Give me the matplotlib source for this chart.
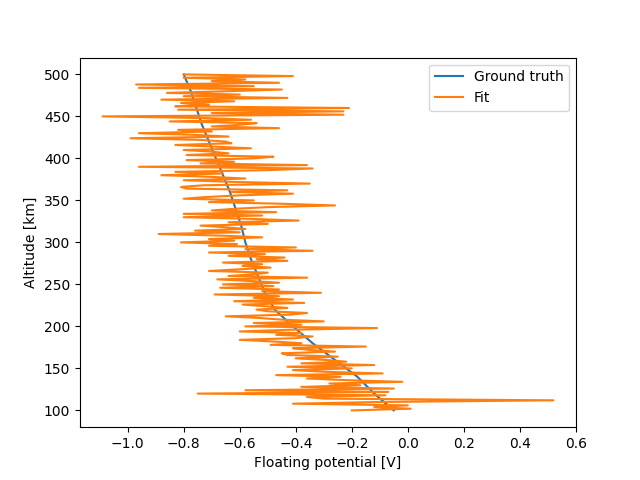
import numpy as np
import matplotlib
matplotlib.use("Agg")
import matplotlib.pyplot as plt

# Ground truth profile (altitude km -> potential V)
truth_alt = [100, 120, 140, 160, 180, 200, 220, 240, 260, 280, 300,
             320, 340, 360, 380, 400, 420, 440, 460, 480, 500]
truth_pot = [-0.05, -0.12, -0.18, -0.26, -0.34, -0.41, -0.475, -0.51, -0.535, -0.56, -0.58,
             -0.595, -0.615, -0.635, -0.66, -0.685, -0.71, -0.735, -0.755, -0.775, -0.80]

# Fit altitudes: 100..500 km every 2 km
fit_alt = np.arange(100, 501, 2)
fit_pot = [
    -0.20, 0.01, -0.12, 0.00, -0.41, -0.10, 0.52, -0.30, -0.36, -0.08,
    -0.75, -0.07, -0.58, -0.05, -0.38, -0.17, -0.28, -0.02, -0.22, -0.36,
    -0.24, -0.47, -0.09, -0.30, -0.41, -0.20, -0.43, -0.12, -0.38, -0.22,
    -0.29, -0.40, -0.25, -0.43, -0.45, -0.26, -0.35, -0.41, -0.15, -0.49,
    -0.38, -0.48, -0.60, -0.40, -0.34, -0.47, -0.38, -0.60, -0.42, -0.11,
    -0.58, -0.38, -0.55, -0.30, -0.45, -0.53, -0.65, -0.42, -0.36, -0.50,
    -0.54, -0.43, -0.51, -0.59, -0.37, -0.62, -0.41, -0.55, -0.46, -0.69,
    -0.31, -0.52, -0.46, -0.67, -0.48, -0.66, -0.46, -0.56, -0.68, -0.36,
    -0.64, -0.55, -0.50, -0.71, -0.60, -0.49, -0.59, -0.52, -0.66, -0.43,
    -0.54, -0.44, -0.64, -0.51, -0.71, -0.34, -0.58, -0.40, -0.71, -0.61,
    -0.81, -0.62, -0.71, -0.52, -0.66, -0.89, -0.60, -0.76, -0.58, -0.65,
    -0.74, -0.50, -0.64, -0.39, -0.56, -0.80, -0.52, -0.80, -0.47, -0.70,
    -0.62, -0.50, -0.26, -0.45, -0.71, -0.55, -0.80, -0.72, -0.60, -0.41,
    -0.63, -0.43, -0.79, -0.81, -0.73, -0.35, -0.62, -0.80, -0.58, -0.70,
    -0.88, -0.66, -0.83, -0.50, -0.34, -0.96, -0.36, -0.74, -0.62, -0.79,
    -0.55, -0.48, -0.79, -0.64, -0.70, -0.80, -0.56, -0.69, -0.83, -0.63,
    -0.65, -0.74, -0.99, -0.64, -0.76, -0.96, -0.70, -0.82, -0.46, -0.70,
    -0.60, -0.54, -0.85, -0.56, -0.72, -1.09, -0.23, -0.70, -0.23, -0.82,
    -0.21, -0.83, -0.71, -0.81, -0.62, -0.88, -0.43, -0.80, -0.60, -0.86,
    -0.64, -0.45, -0.96, -0.55, -0.97, -0.46, -0.70, -0.58, -0.80, -0.41,
    -0.80,
]

fig, ax = plt.subplots(figsize=(6.4, 4.8), dpi=100)
ax.plot(truth_pot, truth_alt, label="Ground truth")
ax.plot(fit_pot, fit_alt, label="Fit")
ax.set_xlabel("Floating potential [V]")
ax.set_ylabel("Altitude [km]")
ax.legend(loc="upper right")
fig.savefig("out.png")
